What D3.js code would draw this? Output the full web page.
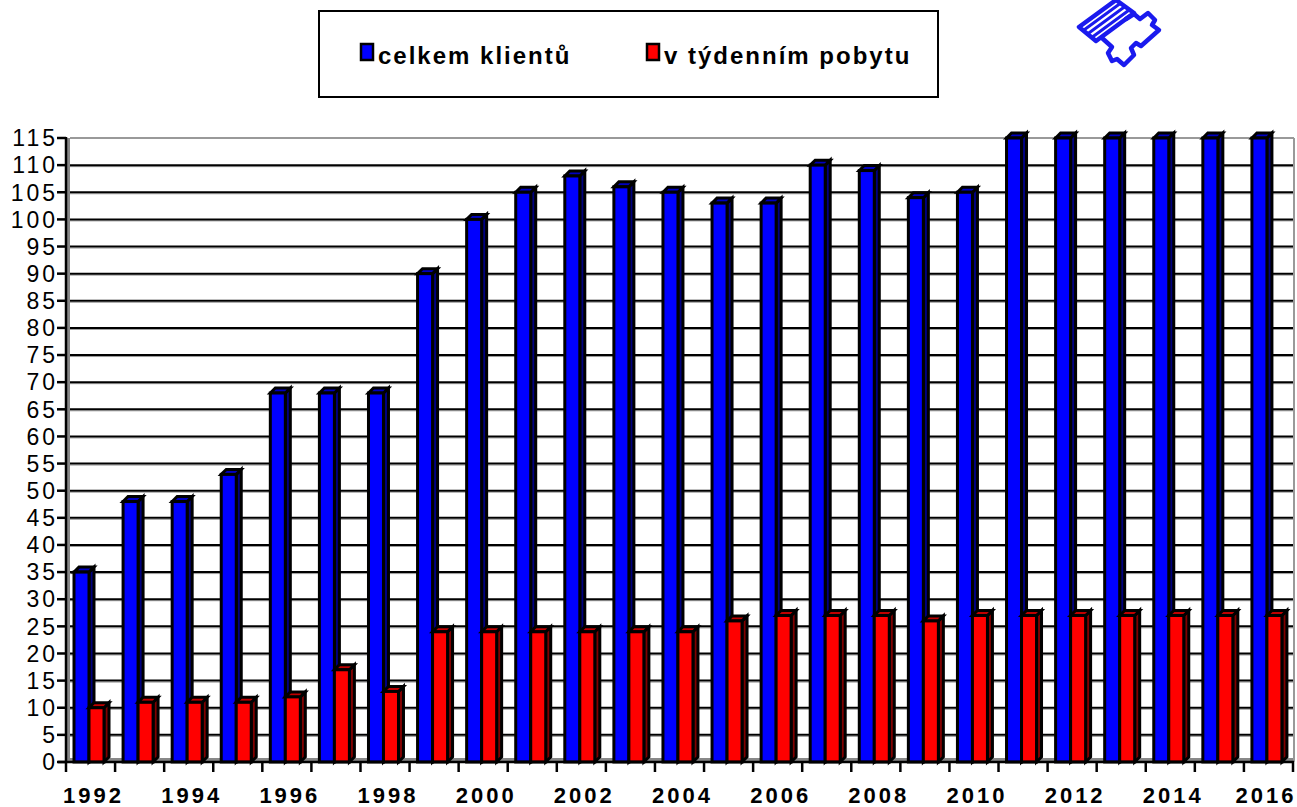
<!DOCTYPE html>
<html>
<head>
<meta charset="utf-8">
<script src="https://cdn.jsdelivr.net/npm/d3@7"></script>
<style>
  body { margin: 0; background: #fff; }
  svg { display: block; font-family: "Liberation Sans", Arial, sans-serif; }
</style>
</head>
<body>
<div id="chart"></div>
<script>
const width = 1297;
const height = 807;

// data
const years = d3.range(1992, 2017).map(String);
const celkem = [35, 48, 48, 53, 68, 68, 68, 90, 100, 105, 108, 106, 105, 103, 103, 110, 109, 104, 105, 115, 115, 115, 115, 115, 115];
const tydenni = [10, 11, 11, 11, 12, 17, 13, 24, 24, 24, 24, 24, 24, 26, 27, 27, 27, 26, 27, 27, 27, 27, 27, 27, 27];
const seriesNames = ["celkem klientů", "v týdenním pobytu"];
const yTicks = d3.range(0, 116, 5);

const colors = [
  { front: "#0000ff", side: "#000080", top: "#0000c0" },
  { front: "#ff0000", side: "#800000", top: "#c00000" }
];

const svg = d3.select("#chart").append("svg")
  .attr("width", width)
  .attr("height", height);

const x = d3.scaleBand().domain(years).range([66, 1293]);
const y = d3.scaleLinear().domain([0, 115]).range([762, 138]);

const depth = 5;

// left wall + floor (grey)
svg.append("rect")
  .attr("x", 66).attr("y", y(115))
  .attr("width", 4).attr("height", y(0) - y(115))
  .attr("fill", "#888");
svg.append("rect")
  .attr("x", 66).attr("y", y(0) - 4)
  .attr("width", 1293 - 66).attr("height", 4)
  .attr("fill", "#888");

// grid lines
const grid = svg.append("g");
yTicks.filter(d => d > 0 && d < 115).forEach(d => {
  grid.append("line")
    .attr("x1", 70).attr("x2", 1293)
    .attr("y1", y(d) + 1.5).attr("y2", y(d) + 1.5)
    .attr("stroke", "#999").attr("stroke-width", 1);
  grid.append("line")
    .attr("x1", 70).attr("x2", 1293)
    .attr("y1", y(d)).attr("y2", y(d))
    .attr("stroke", "#000").attr("stroke-width", 2);
});
grid.append("line")
  .attr("x1", 70).attr("x2", 1294)
  .attr("y1", y(115)).attr("y2", y(115))
  .attr("stroke", "#999").attr("stroke-width", 2);
grid.append("line")
  .attr("x1", 1294).attr("x2", 1294)
  .attr("y1", y(115)).attr("y2", y(0))
  .attr("stroke", "#999").attr("stroke-width", 2);

// bars
const bars = svg.append("g")
  .attr("stroke", "#000")
  .attr("stroke-width", 3)
  .attr("stroke-linejoin", "miter");

function bar3d(g, x0, w, v, c) {
  const top = y(v), base = y(0);
  // side face
  g.append("path")
    .attr("d", `M${x0 + w},${base} L${x0 + w + depth},${base - depth} L${x0 + w + depth},${top - depth} L${x0 + w},${top} Z`)
    .attr("fill", c.side);
  // top face
  g.append("path")
    .attr("d", `M${x0},${top} L${x0 + depth},${top - depth} L${x0 + w + depth},${top - depth} L${x0 + w},${top} Z`)
    .attr("fill", c.top);
  // front face
  g.append("rect")
    .attr("x", x0).attr("y", top)
    .attr("width", w).attr("height", base - top)
    .attr("fill", c.front);
}

years.forEach((yr, i) => {
  const g = bars.append("g");
  const x0 = x(yr);
  bar3d(g, x0 + 8, 15, celkem[i], colors[0]);
  bar3d(g, x0 + 23, 15, tydenni[i], colors[1]);
});

// axes
const xAxis = svg.append("g").attr("transform", `translate(0,${y(0)})`);
xAxis.append("line")
  .attr("x1", 58).attr("x2", 1294)
  .attr("stroke", "#000").attr("stroke-width", 2.5);
xAxis.selectAll(".tick")
  .data(years.concat(["end"]))
  .join("line")
  .attr("x1", (d, i) => i < years.length ? x(d) : 1293)
  .attr("x2", (d, i) => i < years.length ? x(d) : 1293)
  .attr("y1", 0).attr("y2", 10)
  .attr("stroke", "#000").attr("stroke-width", 2.5);
xAxis.selectAll("text")
  .data(years.filter((d, i) => i % 2 === 0))
  .join("text")
  .attr("x", d => Math.min(x(d) + x.bandwidth() / 2 + 3, 1266))
  .attr("y", 41)
  .attr("text-anchor", "middle")
  .attr("font-size", 22)
  .attr("font-weight", "bold")
  .attr("letter-spacing", 3)
  .text(d => d);

const yAxis = svg.append("g");
yAxis.append("line")
  .attr("x1", 66).attr("x2", 66)
  .attr("y1", y(115) - 1).attr("y2", y(0))
  .attr("stroke", "#000").attr("stroke-width", 2.5);
yAxis.selectAll(".tk")
  .data(yTicks)
  .join("line")
  .attr("x1", 57).attr("x2", 66)
  .attr("y1", d => y(d)).attr("y2", d => y(d))
  .attr("stroke", "#000").attr("stroke-width", 2.5);
yAxis.selectAll("text")
  .data(yTicks)
  .join("text")
  .attr("x", 58)
  .attr("y", d => y(d))
  .attr("dy", "0.36em")
  .attr("text-anchor", "end")
  .attr("font-size", 23)
  .attr("letter-spacing", 3)
  .text(d => d);

// legend
const legend = svg.append("g");
legend.append("rect")
  .attr("x", 319).attr("y", 11)
  .attr("width", 619).attr("height", 86)
  .attr("fill", "#fff").attr("stroke", "#000").attr("stroke-width", 2);
const legendX = [361, 647];
seriesNames.forEach((name, i) => {
  legend.append("rect")
    .attr("x", legendX[i]).attr("y", 44)
    .attr("width", 12).attr("height", 16)
    .attr("fill", colors[i].front)
    .attr("stroke", "#000").attr("stroke-width", 2.5);
  legend.append("text")
    .attr("x", legendX[i] + 17).attr("y", 64)
    .attr("font-size", 24)
    .attr("font-weight", "bold")
    .attr("letter-spacing", 2)
    .text(name);
});

// logo in the corner
const logo = svg.append("g")
  .attr("fill", "none")
  .attr("stroke", "#1a1aee")
  .attr("stroke-width", 4.5)
  .attr("stroke-linejoin", "round")
  .attr("stroke-linecap", "round");
logo.append("path")
  .attr("d", "M1079,27 L1116,0 L1134,13 L1096,41 Z");
[0.25, 0.5, 0.75].forEach(t => {
  logo.append("line")
    .attr("x1", 1079 + (1096 - 1079) * t).attr("y1", 27 + (41 - 27) * t)
    .attr("x2", 1116 + (1134 - 1116) * t).attr("y2", 0 + (13 - 0) * t)
    .attr("stroke-width", 3);
});
logo.append("path")
  .attr("d", "M1126,19 L1134,14 L1140,19 L1148,13 L1155,20 L1152,25 L1159,30 L1141,46 L1136,43 L1131,48 L1134,55 L1124,65 L1117,59 L1112,61 L1108,53 L1112,47 L1102,38");
</script>
</body>
</html>
